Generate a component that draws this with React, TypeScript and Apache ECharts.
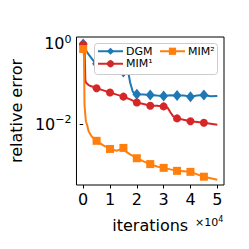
import React, { useEffect, useRef } from "react";
import * as echarts from "echarts";

const dgmIter = [0, 1000, 2000, 3000, 4000, 5000, 7500, 10000, 12500, 15000, 16500, 17000, 17500, 18500, 19500, 20000, 22500, 25000, 27500, 30000, 32500, 35000, 37500, 40000, 42500, 45000, 47500, 50000];
const dgmErr = [1.0, 0.7, 0.55, 0.45, 0.37, 0.32, 0.27, 0.24, 0.22, 0.2, 0.19, 0.17, 0.11, 0.065, 0.057, 0.056, 0.055, 0.054, 0.052, 0.051, 0.053, 0.052, 0.052, 0.049, 0.052, 0.054, 0.05, 0.051];

const mim1Iter = [0, 500, 800, 1000, 2000, 3000, 4000, 5000, 7500, 10000, 12500, 15000, 17500, 20000, 22500, 25000, 27500, 30000, 31500, 32500, 33500, 35000, 37500, 40000, 42500, 45000, 47500, 50000];
const mim1Err = [0.97, 0.9, 0.13, 0.11, 0.095, 0.089, 0.085, 0.079, 0.07, 0.062, 0.055, 0.049, 0.042, 0.035, 0.032, 0.029, 0.029, 0.028, 0.026, 0.02, 0.016, 0.0141, 0.013, 0.012, 0.0115, 0.011, 0.0104, 0.0098];

const mim2Iter = [0, 300, 500, 1000, 1500, 2000, 3000, 4000, 5000, 7500, 10000, 12500, 15000, 16000, 17500, 20000, 22500, 25000, 27500, 30000, 32500, 35000, 37500, 40000, 42500, 45000, 47500, 50000];
const mim2Err = [0.75, 0.5, 0.03, 0.012, 0.0095, 0.0068, 0.0052, 0.0044, 0.0039, 0.003, 0.00245, 0.0022, 0.0026, 0.0021, 0.0018, 0.00144, 0.0012, 0.00103, 0.0009, 0.00083, 0.00076, 0.0007, 0.00068, 0.00066, 0.00057, 0.0005, 0.00046, 0.00042];

const xTicks = [0, 10000, 20000, 30000, 40000, 50000];
const yTicks = [1, 0.01];
const yTickExp = ["0", "\u22122"];

const FONT = "DejaVu Sans";

function buildData(iters: number[], vals: number[]) {
  return iters.map((x, i) => {
    const marker = x % 5000 === 0 && x < 50000;
    return marker ? { value: [x, vals[i]] } : { value: [x, vals[i]], symbol: "none" };
  });
}

export default function App() {
  const ref = useRef<HTMLDivElement>(null);
  useEffect(() => {
    if (!ref.current) return;
    const chart = echarts.init(ref.current, null, { renderer: "svg" });
    const mkSeries = (name: string, color: string, symbol: string, size: any, iters: number[], vals: number[], z: number) => ({
      name,
      type: "line",
      data: buildData(iters, vals),
      symbol,
      symbolSize: size,
      showSymbol: true,
      color,
      itemStyle: { color },
      lineStyle: { color, width: 2 },
      z,
      silent: true,
    });
    const legendText = { fontSize: 11, fontFamily: FONT, color: "#000", lineHeight: 12.5, padding: [0, 0, 0, -2] };
    chart.setOption({
      animation: false,
      textStyle: { fontFamily: FONT },
      grid: {
        left: 75,
        top: 37,
        right: 25,
        bottom: 64,
        show: true,
        borderColor: "#000",
        borderWidth: 1,
        backgroundColor: "transparent",
      },
      xAxis: {
        type: "value",
        min: -2500,
        max: 52500,
        splitLine: { show: false },
        axisLine: { show: false },
        axisTick: { show: true, length: 3.5, lineStyle: { color: "#000" }, customValues: xTicks },
        axisLabel: {
          customValues: xTicks,
          formatter: (v: number) => String(Math.round(v / 10000)),
          color: "#000",
          fontSize: 16,
          fontFamily: FONT,
          margin: 6,
        },
        name: "iterations",
        nameLocation: "middle",
        nameGap: 32,
        nameTextStyle: { color: "#000", fontSize: 16, fontFamily: FONT },
      },
      yAxis: {
        type: "log",
        logBase: 10,
        min: 3.11e-4,
        max: 1.49,
        splitLine: { show: false },
        minorTick: { show: false },
        axisLine: { show: false },
        axisTick: { show: true, length: 3.5, lineStyle: { color: "#000" }, customValues: yTicks },
        axisLabel: {
          customValues: yTicks,
          formatter: (v: number) => {
            const idx = Math.abs(v - 1) < 1e-9 ? 0 : 1;
            return "{b|10}{s|" + yTickExp[idx] + "}";
          },
          margin: 5,
          rich: {
            b: { fontSize: 16, fontFamily: FONT, color: "#000" },
            s: { fontSize: 11, fontFamily: FONT, color: "#000", padding: [0, 0, 9, 0] },
          },
        },
        name: "relative error",
        nameLocation: "middle",
        nameRotate: 90,
        nameGap: 52,
        nameTextStyle: { color: "#000", fontSize: 16, fontFamily: FONT },
      },
      legend: [
        {
          data: ["DGM", "MIM\u00b9"],
          orient: "vertical",
          left: 97,
          top: 45,
          itemGap: 0,
          itemWidth: 25,
          itemHeight: 9,
          padding: 0,
          textStyle: legendText,
          z: 6,
        },
        {
          data: ["MIM\u00b2"],
          orient: "vertical",
          left: 159,
          top: 45,
          itemGap: 0,
          itemWidth: 25,
          itemHeight: 9,
          padding: 0,
          textStyle: legendText,
          z: 6,
        },
      ],
      graphic: [
        {
          type: "rect",
          z: 5,
          shape: { x: 94.5, y: 43.5, width: 123, height: 31, r: 3 },
          style: { fill: "#ffffff", stroke: "#cccccc", lineWidth: 1 },
        },
        {
          type: "text",
          z: 5,
          left: 195,
          top: 215,
          style: {
            text: "{a|\u00d710}{s|4}",
            rich: {
              a: { fontSize: 11, fontFamily: FONT, fill: "#000" },
              s: { fontSize: 8, fontFamily: FONT, fill: "#000", padding: [0, 0, 6, 0] },
            },
          },
        },
      ],
      series: [
        mkSeries("DGM", "#1f77b4", "diamond", [9, 11], dgmIter, dgmErr, 2),
        mkSeries("MIM\u00b9", "#d62728", "circle", 8, mim1Iter, mim1Err, 3),
        mkSeries("MIM\u00b2", "#ff7f0e", "rect", 8, mim2Iter, mim2Err, 4),
      ],
    });
    return () => chart.dispose();
  }, []);
  return <div ref={ref} style={{ position: "absolute", left: 0, top: 0, width: 249, height: 249 }} />;
}
